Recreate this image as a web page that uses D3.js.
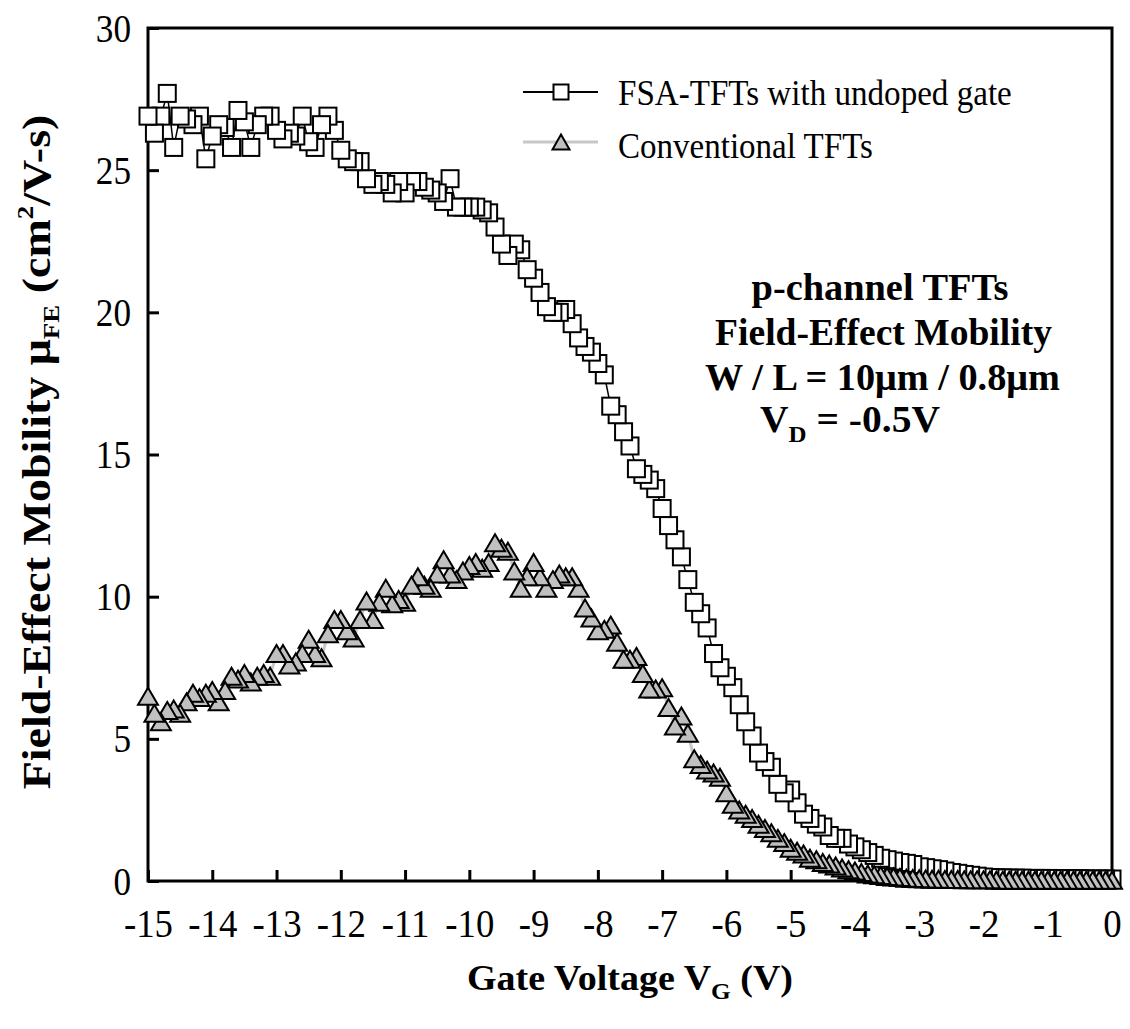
<!DOCTYPE html>
<html>
<head>
<meta charset="utf-8">
<script src="https://cdn.jsdelivr.net/npm/d3@7/dist/d3.min.js"></script>
<style>
  html, body { margin: 0; padding: 0; background: #fff; }
  svg { display: block; }
  text { font-family: "Liberation Serif", "Times New Roman", serif; fill: #000; }
</style>
</head>
<body>
<svg id="chart" width="1130" height="1029"></svg>
<script>
// ---------------- DATA ----------------
const gateVoltage = [
  -15.0,-14.9,-14.8,-14.7,-14.6,-14.5,-14.4,-14.3,-14.2,-14.1,
  -14.0,-13.9,-13.8,-13.7,-13.6,-13.5,-13.4,-13.3,-13.2,-13.1,
  -13.0,-12.9,-12.8,-12.7,-12.6,-12.5,-12.4,-12.3,-12.2,-12.1,
  -12.0,-11.9,-11.8,-11.7,-11.6,-11.5,-11.4,-11.3,-11.2,-11.1,
  -11.0,-10.9,-10.8,-10.7,-10.6,-10.5,-10.4,-10.3,-10.2,-10.1,
  -10.0,-9.9,-9.8,-9.7,-9.6,-9.5,-9.4,-9.3,-9.2,-9.1,
  -9.0,-8.9,-8.8,-8.7,-8.6,-8.5,-8.4,-8.3,-8.2,-8.1,
  -8.0,-7.9,-7.8,-7.7,-7.6,-7.5,-7.4,-7.3,-7.2,-7.1,
  -7.0,-6.9,-6.8,-6.7,-6.6,-6.5,-6.4,-6.3,-6.2,-6.1,
  -6.0,-5.9,-5.8,-5.7,-5.6,-5.5,-5.4,-5.3,-5.2,-5.1,
  -5.0,-4.9,-4.8,-4.7,-4.6,-4.5,-4.4,-4.3,-4.2,-4.1,
  -4.0,-3.9,-3.8,-3.7,-3.6,-3.5,-3.4,-3.3,-3.2,-3.1,
  -3.0,-2.9,-2.8,-2.7,-2.6,-2.5,-2.4,-2.3,-2.2,-2.1,
  -2.0,-1.9,-1.8,-1.7,-1.6,-1.5,-1.4,-1.3,-1.2,-1.1,
  -1.0,-0.9,-0.8,-0.7,-0.6,-0.5,-0.4,-0.3,-0.2,-0.1,
  0.0
];
const fsaMobility = [
  26.9,26.3,26.9,27.7,25.8,26.9,26.8,26.6,26.9,25.4,
  26.2,26.6,26.5,25.8,27.1,26.7,25.8,26.6,26.9,26.9,
  26.4,26.1,26.3,26.2,26.9,26.0,25.8,26.6,26.9,26.4,
  25.7,25.4,25.3,25.3,24.7,24.5,24.6,24.5,24.2,24.6,
  24.2,24.6,24.6,24.4,24.3,24.2,23.9,24.7,23.7,23.7,
  23.7,23.7,23.6,23.5,23.0,22.4,22.0,22.4,22.2,21.5,
  21.2,20.7,20.2,20.0,20.0,20.1,19.6,19.1,18.8,18.6,
  18.2,17.8,16.7,16.4,15.8,15.3,14.5,14.3,14.1,13.8,
  13.1,12.5,12.0,11.4,10.6,9.8,9.4,8.9,8.0,7.5,
  7.2,6.8,6.2,5.6,5.1,4.5,4.2,4.0,3.4,3.1,
  3.2,2.75,2.35,2.2,2.0,1.9,1.6,1.5,1.5,1.3,
  1.2,1.1,1.0,0.9,0.8,0.75,0.7,0.65,0.62,0.58,
  0.5,0.47,0.43,0.4,0.35,0.3,0.27,0.23,0.2,0.17,
  0.14,0.12,0.11,0.11,0.1,0.1,0.1,0.09,0.09,0.09,
  0.09,0.08,0.08,0.08,0.08,0.08,0.07,0.07,0.07,0.07,
  0.07
];
const convMobility = [
  6.5,5.9,5.6,6.0,6.05,5.9,6.3,6.6,6.45,6.6,
  6.7,6.3,6.7,7.2,7.1,7.3,7.0,7.2,7.3,7.2,
  8.0,8.0,7.6,7.7,8.0,8.5,8.0,7.85,8.7,9.2,
  9.2,8.8,8.55,9.2,9.85,9.2,9.8,10.3,9.75,9.9,
  9.8,10.4,10.7,10.4,10.3,10.8,11.3,10.8,10.6,10.9,
  11.1,11.2,11.0,11.2,11.9,11.7,11.6,10.9,10.3,10.7,
  11.2,10.7,10.3,10.6,10.8,10.7,10.7,10.3,9.6,9.25,
  8.8,8.85,9.0,8.4,7.8,7.8,7.9,7.3,6.75,6.75,
  6.8,6.1,5.45,5.8,5.2,4.3,4.1,3.9,3.8,3.65,
  3.1,2.7,2.5,2.35,2.2,2.0,1.85,1.7,1.5,1.35,
  1.15,1.05,0.95,0.8,0.75,0.65,0.6,0.53,0.46,0.4,
  0.35,0.3,0.25,0.22,0.19,0.16,0.14,0.12,0.1,0.09,
  0.08,0.07,0.06,0.06,0.05,0.05,0.05,0.04,0.04,0.04,
  0.04,0.04,0.03,0.03,0.03,0.03,0.03,0.03,0.03,0.03,
  0.03,0.03,0.03,0.03,0.03,0.03,0.03,0.03,0.03,0.03,
  0.03
];
const xTicks = [-15,-14,-13,-12,-11,-10,-9,-8,-7,-6,-5,-4,-3,-2,-1,0];
const yTicks = [0,5,10,15,20,25,30];
const seriesNames = ["FSA-TFTs with undoped gate", "Conventional TFTs"];
const noteLines = ["p-channel TFTs", "Field-Effect Mobility", "W / L = 10\u03bcm / 0.8\u03bcm"];

// ---------------- CHART ----------------
const svg = d3.select("#chart");
svg.append("rect").attr("width", 1130).attr("height", 1029).attr("fill", "#fff");

const L = 148, R = 1112, T = 28, B = 881;
const x = d3.scaleLinear().domain([-15, 0]).range([L, R]);
const y = d3.scaleLinear().domain([0, 30]).range([B, T]);

const fsa = gateVoltage.map((v, i) => ({ v, m: fsaMobility[i] }));
const conv = gateVoltage.map((v, i) => ({ v, m: convMobility[i] }));

function fit(textSel, width) {
  const w = textSel.node().getComputedTextLength();
  textSel.attr("transform", `scale(${width / w},1)`);
}

// Axes
const yAxis = d3.axisLeft(y).tickValues(yTicks).tickSize(-11).tickPadding(0).tickFormat(d3.format("d"));
const gy = svg.append("g").attr("transform", `translate(${L},0)`).call(yAxis);
gy.select(".domain").remove();
gy.selectAll(".tick line").attr("stroke", "#000").attr("stroke-width", 3);
gy.selectAll(".tick text")
  .attr("x", 0).attr("dy", null).attr("y", 13)
  .attr("font-size", 40).attr("text-anchor", "end")
  .attr("font-family", "Liberation Serif, Times New Roman, serif")
  .attr("transform", "translate(-17,0) scale(0.88,1)");

const xAxis = d3.axisBottom(x).tickValues(xTicks).tickSize(-11).tickPadding(0).tickFormat(d3.format("d"));
const gx = svg.append("g").attr("transform", `translate(0,${B})`).call(xAxis);
gx.select(".domain").remove();
gx.selectAll(".tick line").attr("stroke", "#000").attr("stroke-width", 3);
gx.selectAll(".tick text")
  .attr("y", 0).attr("dy", null)
  .attr("font-size", 40).attr("text-anchor", "middle")
  .attr("font-family", "Liberation Serif, Times New Roman, serif")
  .attr("transform", "translate(0,56) scale(0.92,1)");
gx.selectAll(".tick text").text(d => d === 0 ? "0" : "-" + Math.abs(d));

// Frame
svg.append("rect")
  .attr("x", L).attr("y", T).attr("width", R - L).attr("height", B - T)
  .attr("fill", "none").attr("stroke", "#000").attr("stroke-width", 3);

// Lines
const line = d3.line().x(d => x(d.v)).y(d => y(d.m));
svg.append("path").datum(fsa).attr("d", line)
  .attr("fill", "none").attr("stroke", "#000").attr("stroke-width", 1.5);

const sq = 17;
svg.append("g").selectAll("rect").data(fsa.slice().reverse()).join("rect")
  .attr("x", d => x(d.v) - sq / 2).attr("y", d => y(d.m) - sq / 2)
  .attr("width", sq).attr("height", sq)
  .attr("fill", "#fff").attr("stroke", "#000").attr("stroke-width", 2);

svg.append("path").datum(conv).attr("d", line)
  .attr("fill", "none").attr("stroke", "#c8c8c8").attr("stroke-width", 3);

function triPath(w, h) {
  return `M0,${-h / 2}L${w / 2},${h / 2}L${-w / 2},${h / 2}Z`;
}
svg.append("g").selectAll("path").data(conv.slice().reverse()).join("path")
  .attr("d", triPath(20, 17))
  .attr("transform", d => `translate(${x(d.v)},${y(d.m)})`)
  .attr("fill", "#c0c0c0").attr("stroke", "#000").attr("stroke-width", 2)
  .attr("stroke-linejoin", "miter");

// Legend
const lg = svg.append("g");
lg.append("line").attr("x1", 523).attr("x2", 598).attr("y1", 92).attr("y2", 92)
  .attr("stroke", "#000").attr("stroke-width", 2);
lg.append("rect").attr("x", 561 - 7.5).attr("y", 92 - 7.5).attr("width", 15).attr("height", 15)
  .attr("fill", "#fff").attr("stroke", "#000").attr("stroke-width", 2);
lg.append("line").attr("x1", 523).attr("x2", 598).attr("y1", 142).attr("y2", 142)
  .attr("stroke", "#c8c8c8").attr("stroke-width", 3);
lg.append("path").attr("d", triPath(17, 15)).attr("transform", "translate(561,142)")
  .attr("fill", "#c0c0c0").attr("stroke", "#000").attr("stroke-width", 2);

const leg1 = lg.append("g").attr("transform", "translate(618,105)")
  .append("text").attr("font-size", 35).text(seriesNames[0]);
fit(leg1, 394);
const leg2 = lg.append("g").attr("transform", "translate(618,158)")
  .append("text").attr("font-size", 35).text(seriesNames[1]);
fit(leg2, 255);

// Annotation
const notePos = [[880, 300, 257], [883.5, 345, 337], [882.5, 390, 355]];
noteLines.forEach((t, i) => {
  const tx = svg.append("g").attr("transform", `translate(${notePos[i][0]},${notePos[i][1]})`)
    .append("text").attr("text-anchor", "middle").attr("font-weight", "bold")
    .attr("font-size", 38).text(t);
  fit(tx, notePos[i][2]);
});
const vd = svg.append("g").attr("transform", "translate(760,432)")
  .append("text").attr("font-weight", "bold").attr("font-size", 38);
vd.append("tspan").text("V");
vd.append("tspan").attr("font-size", 24).attr("dy", 10).text("D");
vd.append("tspan").attr("dy", -10).text(" = -0.5V");
fit(vd, 180);

// Axis titles
const xt = svg.append("g").attr("transform", "translate(630,990)")
  .append("text").attr("text-anchor", "middle").attr("font-weight", "bold").attr("font-size", 36);
xt.append("tspan").text("Gate Voltage V");
xt.append("tspan").attr("font-size", 24).attr("dy", 9).text("G");
xt.append("tspan").attr("dy", -9).text(" (V)");
fit(xt, 326);

const yt = svg.append("g").attr("transform", "translate(50,452) rotate(-90)")
  .append("text").attr("text-anchor", "middle").attr("font-weight", "bold").attr("font-size", 41);
yt.append("tspan").text("Field-Effect Mobility \u03bc");
yt.append("tspan").attr("font-size", 24).attr("dy", 9).text("FE");
yt.append("tspan").attr("dy", -9).text(" (cm");
yt.append("tspan").attr("font-size", 24).attr("dy", -17).text("2");
yt.append("tspan").attr("dy", 17).text("/V-s)");
fit(yt, 675);
</script>
</body>
</html>
